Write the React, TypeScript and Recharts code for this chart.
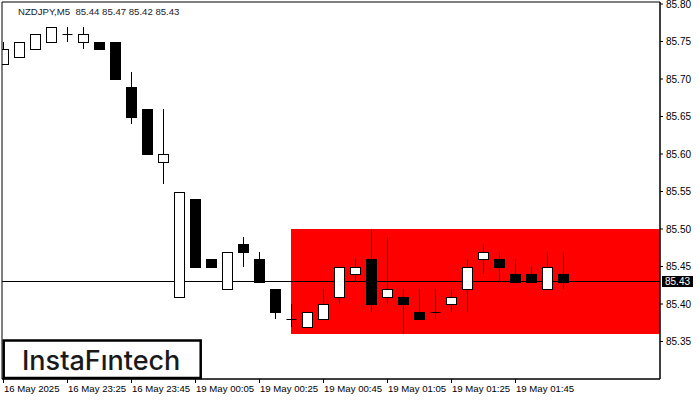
import React from "react";
import { ComposedChart, Bar, XAxis, YAxis, ReferenceArea, ReferenceLine } from "recharts";

// NZDJPY M5 candles, 16 May 23:05 .. 19 May 02:00
const opens = [85.72, 85.73, 85.74, 85.75, 85.76, 85.75, 85.75, 85.75, 85.69, 85.66, 85.59, 85.41, 85.54, 85.46, 85.42, 85.48, 85.46, 85.42, 85.38, 85.37, 85.38, 85.41, 85.44, 85.46, 85.41, 85.41, 85.39, 85.39, 85.40, 85.42, 85.46, 85.46, 85.44, 85.44, 85.42, 85.44];
const highs = [85.75, 85.75, 85.76, 85.77, 85.77, 85.77, 85.75, 85.75, 85.71, 85.66, 85.66, 85.55, 85.54, 85.46, 85.47, 85.49, 85.47, 85.42, 85.40, 85.39, 85.42, 85.45, 85.46, 85.50, 85.49, 85.42, 85.42, 85.42, 85.42, 85.46, 85.48, 85.47, 85.46, 85.45, 85.47, 85.47];
const lows = [85.72, 85.73, 85.74, 85.75, 85.75, 85.74, 85.74, 85.70, 85.64, 85.60, 85.56, 85.41, 85.45, 85.45, 85.42, 85.45, 85.43, 85.38, 85.37, 85.37, 85.38, 85.40, 85.43, 85.39, 85.40, 85.36, 85.38, 85.38, 85.39, 85.39, 85.44, 85.43, 85.43, 85.43, 85.42, 85.42];
const closes = [85.74, 85.75, 85.76, 85.77, 85.76, 85.76, 85.74, 85.70, 85.65, 85.60, 85.60, 85.55, 85.45, 85.45, 85.47, 85.47, 85.43, 85.39, 85.38, 85.39, 85.40, 85.45, 85.45, 85.40, 85.42, 85.40, 85.38, 85.39, 85.41, 85.45, 85.47, 85.45, 85.43, 85.43, 85.45, 85.43];

const timeTicks = [0, 4, 8, 12, 16, 20, 24, 28, 32];
const timeLabels = ["16 May 2025", "16 May 23:25", "16 May 23:45", "19 May 00:05", "19 May 00:25", "19 May 00:45", "19 May 01:05", "19 May 01:25", "19 May 01:45"];
const priceTicks = [85.35, 85.4, 85.43, 85.45, 85.5, 85.55, 85.6, 85.65, 85.7, 85.75, 85.8];

const lastPrice = 85.43;
const zoneTop = 85.5;
const zoneBottom = 85.36;
const zoneStart = 18;

const xDomain = [-0.0625, 41.0625];
const yDomain = [85.3, 85.80267];

const data = opens.map((o, i) => ({
  i,
  open: o,
  high: highs[i],
  low: lows[i],
  close: closes[i],
  range: [lows[i], highs[i]],
}));

const font = "'Liberation Sans', Arial, sans-serif";

const Candle = (props: any) => {
  const { x, y, width, height, payload } = props;
  if (x == null || y == null) return null;
  const top = Math.min(y, y + height);
  const bot = Math.max(y, y + height);
  const { open, close, high, low } = payload;
  const py = (p: number) => top + ((high - p) / (high - low)) * (bot - top);
  const cx = Math.floor(x + width / 2) + 0.5;
  const yo = Math.round(py(open)) + 0.5;
  const yc = Math.round(py(close)) + 0.5;
  const bTop = Math.min(yo, yc);
  const bBot = Math.max(yo, yc);
  const left = cx - 5;
  const w = 10;
  return (
    <g>
      <line x1={cx} x2={cx} y1={Math.round(top)} y2={Math.round(bot)} stroke="#000" strokeWidth={1} />
      {open === close ? (
        <line x1={left} x2={left + w} y1={yo} y2={yo} stroke="#000" strokeWidth={1} />
      ) : (
        <rect
          x={left}
          y={bTop}
          width={w}
          height={bBot - bTop}
          fill={close > open ? "#fff" : "#000"}
          stroke="#000"
          strokeWidth={1}
        />
      )}
    </g>
  );
};

const TimeTick = (props: any) => {
  const { x, y, payload } = props;
  const k = timeTicks.indexOf(payload.value);
  return (
    <g>
      <line x1={x + 0.5} x2={x + 0.5} y1={y} y2={y + 4} stroke="#000" />
      <text x={x + 1} y={y + 13} fontSize={9.6} fontFamily={font} fill="#000" textAnchor="start">
        {timeLabels[k]}
      </text>
    </g>
  );
};

const PriceTick = (props: any) => {
  const { x, y, payload } = props;
  const v = payload.value;
  if (v === lastPrice) {
    return (
      <g>
        <rect x={x + 2} y={y - 5.5} width={31} height={11} fill="#000" />
        <text x={x + 5} y={y} dy="0.35em" fontSize={10} fontFamily={font} fill="#fff">
          {v.toFixed(2)}
        </text>
      </g>
    );
  }
  return (
    <g>
      <line x1={x} x2={x + 3} y1={y} y2={y} stroke="#000" />
      <text x={x + 6} y={y} dy="0.35em" fontSize={10} fontFamily={font} fill="#000">
        {v.toFixed(2)}
      </text>
    </g>
  );
};

export default function App() {
  return (
    <div style={{ position: "absolute", left: 0, top: 0, width: 700, height: 400, background: "#fff" }}>
      <style>{`body{margin:0}`}</style>
      <ComposedChart width={700} height={400} data={data} margin={{ top: 2, right: 0, bottom: 0, left: 2 }}>
        <XAxis
          dataKey="i"
          type="number"
          domain={xDomain}
          allowDataOverflow
          ticks={timeTicks}
          tick={<TimeTick />}
          tickLine={false}
          tickSize={0}
          tickMargin={0}
          height={21}
          axisLine={{ stroke: "#000" }}
          interval={0}
        />
        <YAxis
          orientation="right"
          type="number"
          domain={yDomain}
          allowDataOverflow
          ticks={priceTicks}
          tick={<PriceTick />}
          tickLine={false}
          tickSize={0}
          tickMargin={0}
          width={40}
          axisLine={{ stroke: "#000" }}
          interval={0}
        />
        <ReferenceArea
          x1={zoneStart}
          x2={xDomain[1]}
          y1={zoneBottom}
          y2={zoneTop}
          fill="#ff0000"
          fillOpacity={1}
          stroke="none"
          zIndex={50}
        />
        <ReferenceLine y={lastPrice} stroke="#000" strokeWidth={1} zIndex={60} />
        <Bar dataKey="range" barSize={10} shape={<Candle />} isAnimationActive={false} zIndex={300} />
        <ReferenceArea
          x1={xDomain[0]}
          x2={xDomain[1]}
          y1={yDomain[0]}
          y2={yDomain[1]}
          fill="none"
          stroke="#000"
          strokeWidth={1}
          zIndex={700}
        />
      </ComposedChart>
      <svg width={700} height={400} style={{ position: "absolute", left: 0, top: 0, pointerEvents: "none" }}>
        <text x={18} y={15} fontSize={9.6} fontFamily={font} fill="#1a1a2e" style={{ whiteSpace: "pre" }}>
          {"NZDJPY,M5  85.44 85.47 85.42 85.43"}
        </text>
        <rect x={3.7} y={340.5} width={197} height={37.5} fill="#fff" stroke="#000" strokeWidth={2.5} />
        <text x={22} y={370} fontSize={27} fontWeight={500} fontFamily="Inter, 'Noto Sans', sans-serif" fill="#1a1a1a">
          InstaFıntech
        </text>
      </svg>
    </div>
  );
}
